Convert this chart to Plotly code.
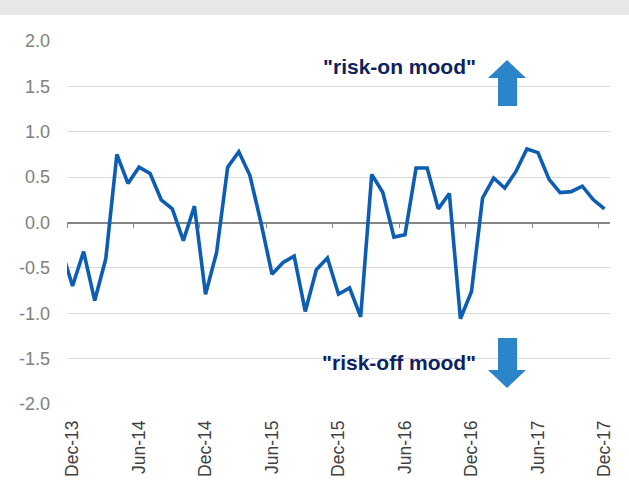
import plotly.graph_objects as go

# ---- data ----
months = [
    "Nov-13", "Dec-13",
    "Jan-14", "Feb-14", "Mar-14", "Apr-14", "May-14", "Jun-14",
    "Jul-14", "Aug-14", "Sep-14", "Oct-14", "Nov-14", "Dec-14",
    "Jan-15", "Feb-15", "Mar-15", "Apr-15", "May-15", "Jun-15",
    "Jul-15", "Aug-15", "Sep-15", "Oct-15", "Nov-15", "Dec-15",
    "Jan-16", "Feb-16", "Mar-16", "Apr-16", "May-16", "Jun-16",
    "Jul-16", "Aug-16", "Sep-16", "Oct-16", "Nov-16", "Dec-16",
    "Jan-17", "Feb-17", "Mar-17", "Apr-17", "May-17", "Jun-17",
    "Jul-17", "Aug-17", "Sep-17", "Oct-17", "Nov-17", "Dec-17",
]
sentiment = [
    -0.30, -0.70,
    -0.32, -0.86, -0.40, 0.75, 0.43, 0.61,
    0.54, 0.25, 0.15, -0.20, 0.18, -0.79,
    -0.33, 0.61, 0.78, 0.52, 0.00, -0.57,
    -0.44, -0.37, -0.98, -0.52, -0.39, -0.79,
    -0.72, -1.04, 0.53, 0.33, -0.16, -0.135,
    0.60, 0.60, 0.15, 0.32, -1.06, -0.76,
    0.27, 0.49, 0.38, 0.56, 0.81, 0.77,
    0.475, 0.33, 0.34, 0.40, 0.25, 0.15,
]
x_tick_labels = ["Dec-13", "Jun-14", "Dec-14", "Jun-15", "Dec-15",
                 "Jun-16", "Dec-16", "Jun-17", "Dec-17"]
y_tick_values = [2.0, 1.5, 1.0, 0.5, 0.0, -0.5, -1.0, -1.5, -2.0]
y_tick_labels = ["2.0", "1.5", "1.0", "0.5", "0.0", "-0.5", "-1.0", "-1.5", "-2.0"]
label_on = '"risk-on mood"'
label_off = '"risk-off mood"'

# ---- styling ----
W, H = 629, 480
ML, MR, MT, MB = 67, 19, 41, 76
PW, PH = W - ML - MR, H - MT - MB
FONT = "Liberation Sans, Arial, sans-serif"
LINE_COLOR = "#0c5db3"
ARROW_COLOR = "#2b86c9"
NAVY = "#0d2260"


def px(x, y):
    """pixel -> paper coordinates (for decorations only)"""
    return (x - ML) / PW, (H - MB - y) / PH


def path(points):
    pts = [px(a, b) for a, b in points]
    return "M " + " L ".join(f"{a:.5f},{b:.5f}" for a, b in pts) + " Z"


x_idx = list(range(len(months)))
tick_pos = [months.index(m) for m in x_tick_labels]
x_range = [tick_pos[0] - 0.5, tick_pos[-1] + 0.5]

fig = go.Figure()
fig.add_trace(go.Scatter(
    x=x_idx, y=sentiment, mode="lines",
    line=dict(color=LINE_COLOR, width=3.6),
    xaxis="x", yaxis="y", showlegend=False, hoverinfo="skip",
))
# invisible helper trace so the label axis is rendered
fig.add_trace(go.Scatter(
    x=[tick_pos[0]], y=[0], mode="markers", marker=dict(opacity=0),
    xaxis="x2", yaxis="y", showlegend=False, hoverinfo="skip",
))

fig.update_layout(
    width=W, height=H,
    margin=dict(l=ML, r=MR, t=MT, b=MB, autoexpand=False),
    paper_bgcolor="white", plot_bgcolor="white",
    font=dict(family=FONT),
    showlegend=False,
    xaxis=dict(
        range=x_range, anchor="free", position=0.5,
        showline=True, linecolor="#868686", linewidth=1.5,
        ticks="outside", ticklen=5, tickwidth=1.3, tickcolor="#868686",
        tickmode="array", tickvals=[p - 0.5 for p in tick_pos],
        showticklabels=False, showgrid=False, zeroline=False,
        layer="below traces", automargin=False,
    ),
    xaxis2=dict(
        range=x_range, overlaying="x", anchor="y", side="bottom",
        tickmode="array", tickvals=tick_pos, ticktext=x_tick_labels,
        tickangle=-90, tickfont=dict(size=17.5, color="#404040", family=FONT),
        ticks="", showline=False, showgrid=False, zeroline=False,
        ticklabelstandoff=12, automargin=False,
    ),
    yaxis=dict(
        range=[-2, 2], tickmode="array",
        tickvals=y_tick_values, ticktext=y_tick_labels,
        tickfont=dict(size=18, color="#808080", family=FONT),
        showgrid=True, gridcolor="#d9d9d9", gridwidth=1.3,
        zeroline=False, showline=False, ticks="",
        ticklabelstandoff=16, automargin=False,
    ),
)

on_x, on_y = px(399, 66)
off_x, off_y = px(399, 362)
fig.add_annotation(x=on_x, y=on_y, xref="paper", yref="paper",
                   text=f"<b>{label_on}</b>", showarrow=False,
                   xanchor="center", yanchor="middle",
                   font=dict(size=21, color=NAVY, family=FONT))
fig.add_annotation(x=off_x, y=off_y, xref="paper", yref="paper",
                   text=f"<b>{label_off}</b>", showarrow=False,
                   xanchor="center", yanchor="middle",
                   font=dict(size=21, color=NAVY, family=FONT))

up_arrow = [(498, 106), (498, 78), (488, 78), (507, 60), (526, 78), (517, 78), (517, 106)]
down_arrow = [(498, 338), (498, 370), (488, 370), (507, 388), (526, 370), (517, 370), (517, 338)]
for pts in (up_arrow, down_arrow):
    fig.add_shape(type="path", path=path(pts), xref="paper", yref="paper",
                  fillcolor=ARROW_COLOR, line=dict(width=0))

# grey band at the very top of the picture
bx0, by0 = px(0, 15)
bx1, by1 = px(W, 0)
fig.add_shape(type="rect", x0=bx0, x1=bx1, y0=by0, y1=by1,
              xref="paper", yref="paper", fillcolor="#e8e8e8",
              line=dict(width=0), layer="below")

fig.write_html(
    "out.html",
    config={"displayModeBar": False},
    post_script="document.body.style.margin='0';document.body.style.padding='0';",
)
